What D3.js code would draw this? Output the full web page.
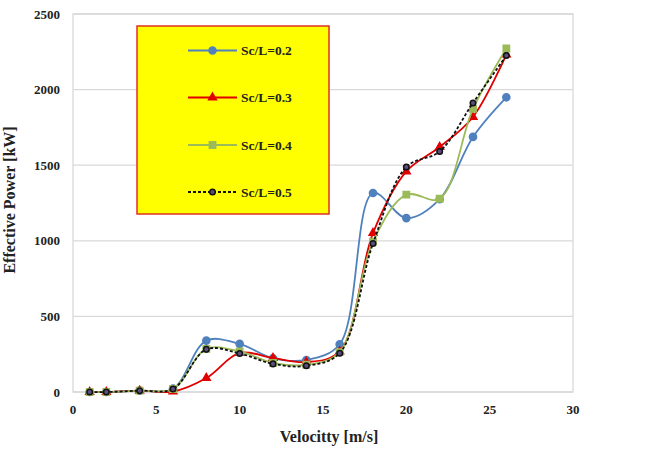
<!DOCTYPE html>
<html>
<head>
<meta charset="utf-8">
<title>effective power</title>
<script src="https://cdn.jsdelivr.net/npm/d3@7"></script>
<style>
  body { margin: 0; background: #fff; }
  text { font-family: "Liberation Serif", "Times New Roman", serif; font-weight: bold; }
</style>
</head>
<body>
<script>
// velocity values (x) and power for each Sc/L ratio
var velocity = [1, 2, 4, 6, 8, 10, 12, 14, 16, 18, 20, 22, 24, 26]
var sc02 = [0, 0, 9, 22, 340, 318, 223, 212, 316, 1316, 1150, 1275, 1687, 1949]
var sc03 = [0, 0, 9, 3, 92, 258, 225, 198, 268, 1051, 1459, 1620, 1819, 2232]
var sc04 = [0, 0, 9, 20, 285, 268, 192, 180, 264, 995, 1305, 1278, 1872, 2272]
var sc05 = [0, 0, 9, 20, 282, 255, 186, 173, 257, 982, 1488, 1591, 1912, 2225]
var seriesNames = ["Sc/L=0.2", "Sc/L=0.3", "Sc/L=0.4", "Sc/L=0.5"]
var xTicks = [0, 5, 10, 15, 20, 25, 30]
var yTicks = [0, 500, 1000, 1500, 2000, 2500]

var w = 653, h = 452
var svg = d3.select("body").append("svg").attr("width", w).attr("height", h)

var xScale = d3.scaleLinear().domain([0, 30]).range([73, 573])
var yScale = d3.scaleLinear().domain([0, 2500]).range([392, 14])

// gridlines
svg.selectAll(".grid").data(yTicks).enter().append("line")
    .attr("x1", 73).attr("x2", 573)
    .attr("y1", function(d){ return yScale(d) }).attr("y2", function(d){ return yScale(d) })
    .attr("stroke", "#d9d9d9").attr("stroke-width", 1.3)
// plot frame
svg.append("rect").attr("x", 73).attr("y", 14).attr("width", 500).attr("height", 378)
    .attr("fill", "none").attr("stroke", "#d9d9d9").attr("stroke-width", 1.3)

// tick labels
svg.selectAll(".yt").data(yTicks).enter().append("text")
    .attr("x", 60).attr("y", function(d){ return yScale(d) + 4.5 })
    .attr("text-anchor", "end").attr("font-size", 13).attr("fill", "#222")
    .text(function(d){ return d })
svg.selectAll(".xt").data(xTicks).enter().append("text")
    .attr("x", function(d){ return xScale(d) }).attr("y", 414)
    .attr("text-anchor", "middle").attr("font-size", 13).attr("fill", "#222")
    .text(function(d){ return d })

svg.append("text").attr("x", 329).attr("y", 442).attr("text-anchor", "middle")
    .attr("font-size", 16).attr("fill", "#222").text("Velocitty [m/s]")
svg.append("text").attr("transform", "translate(15,200) rotate(-90)").attr("text-anchor", "middle")
    .attr("font-size", 16).attr("fill", "#222").text("Effective Power [kW]")

var series = [
    {name: seriesNames[0], values: sc02, color: "#4f81bd", dash: null, sym: d3.symbolCircle, size: 40, fill: "#4f81bd", mstroke: "#4f81bd"},
    {name: seriesNames[1], values: sc03, color: "#e00000", dash: null, sym: d3.symbolTriangle, size: 26, fill: "#e00000", mstroke: "#e00000"},
    {name: seriesNames[2], values: sc04, color: "#9bbb59", dash: null, sym: d3.symbolSquare, size: 40, fill: "#9bbb59", mstroke: "#9bbb59"},
    {name: seriesNames[3], values: sc05, color: "#111", dash: "3,2", sym: d3.symbolCircle, size: 24, fill: "#5b4f7f", mstroke: "#111"}
]

var line = d3.line()
    .x(function(d){ return xScale(d[0]) })
    .y(function(d){ return yScale(d[1]) })
    .curve(d3.curveCatmullRom.alpha(0.5))

series.forEach(function(s){
    var pts = velocity.map(function(v, i){ return [v, s.values[i]] })
    svg.append("path").datum(pts).attr("d", line)
        .attr("fill", "none").attr("stroke", s.color).attr("stroke-width", 1.8)
        .attr("stroke-dasharray", s.dash)
    svg.selectAll(null).data(pts).enter().append("path")
        .attr("transform", function(d){ return "translate(" + xScale(d[0]) + "," + yScale(d[1]) + ")" })
        .attr("d", d3.symbol().type(s.sym).size(s.size))
        .attr("fill", s.fill).attr("stroke", s.mstroke).attr("stroke-width", 1.5)
})

// legend
var lg = svg.append("g")
lg.append("rect").attr("x", 137).attr("y", 26).attr("width", 192).attr("height", 188)
    .attr("fill", "#ffff00").attr("stroke", "#e03020").attr("stroke-width", 1.5)
var rowY = [50.5, 97.5, 145, 192]
series.forEach(function(s, i){
    lg.append("line").attr("x1", 188).attr("x2", 237).attr("y1", rowY[i]).attr("y2", rowY[i])
        .attr("stroke", s.color).attr("stroke-width", 1.8).attr("stroke-dasharray", s.dash)
    lg.append("path").attr("transform", "translate(212.5," + rowY[i] + ")")
        .attr("d", d3.symbol().type(s.sym).size(s.size))
        .attr("fill", s.fill).attr("stroke", s.mstroke).attr("stroke-width", 1.5)
    lg.append("text").attr("x", 241).attr("y", rowY[i] + 4.5).attr("font-size", 13.5)
        .attr("fill", "#222").text(s.name)
})
</script>
</body>
</html>
